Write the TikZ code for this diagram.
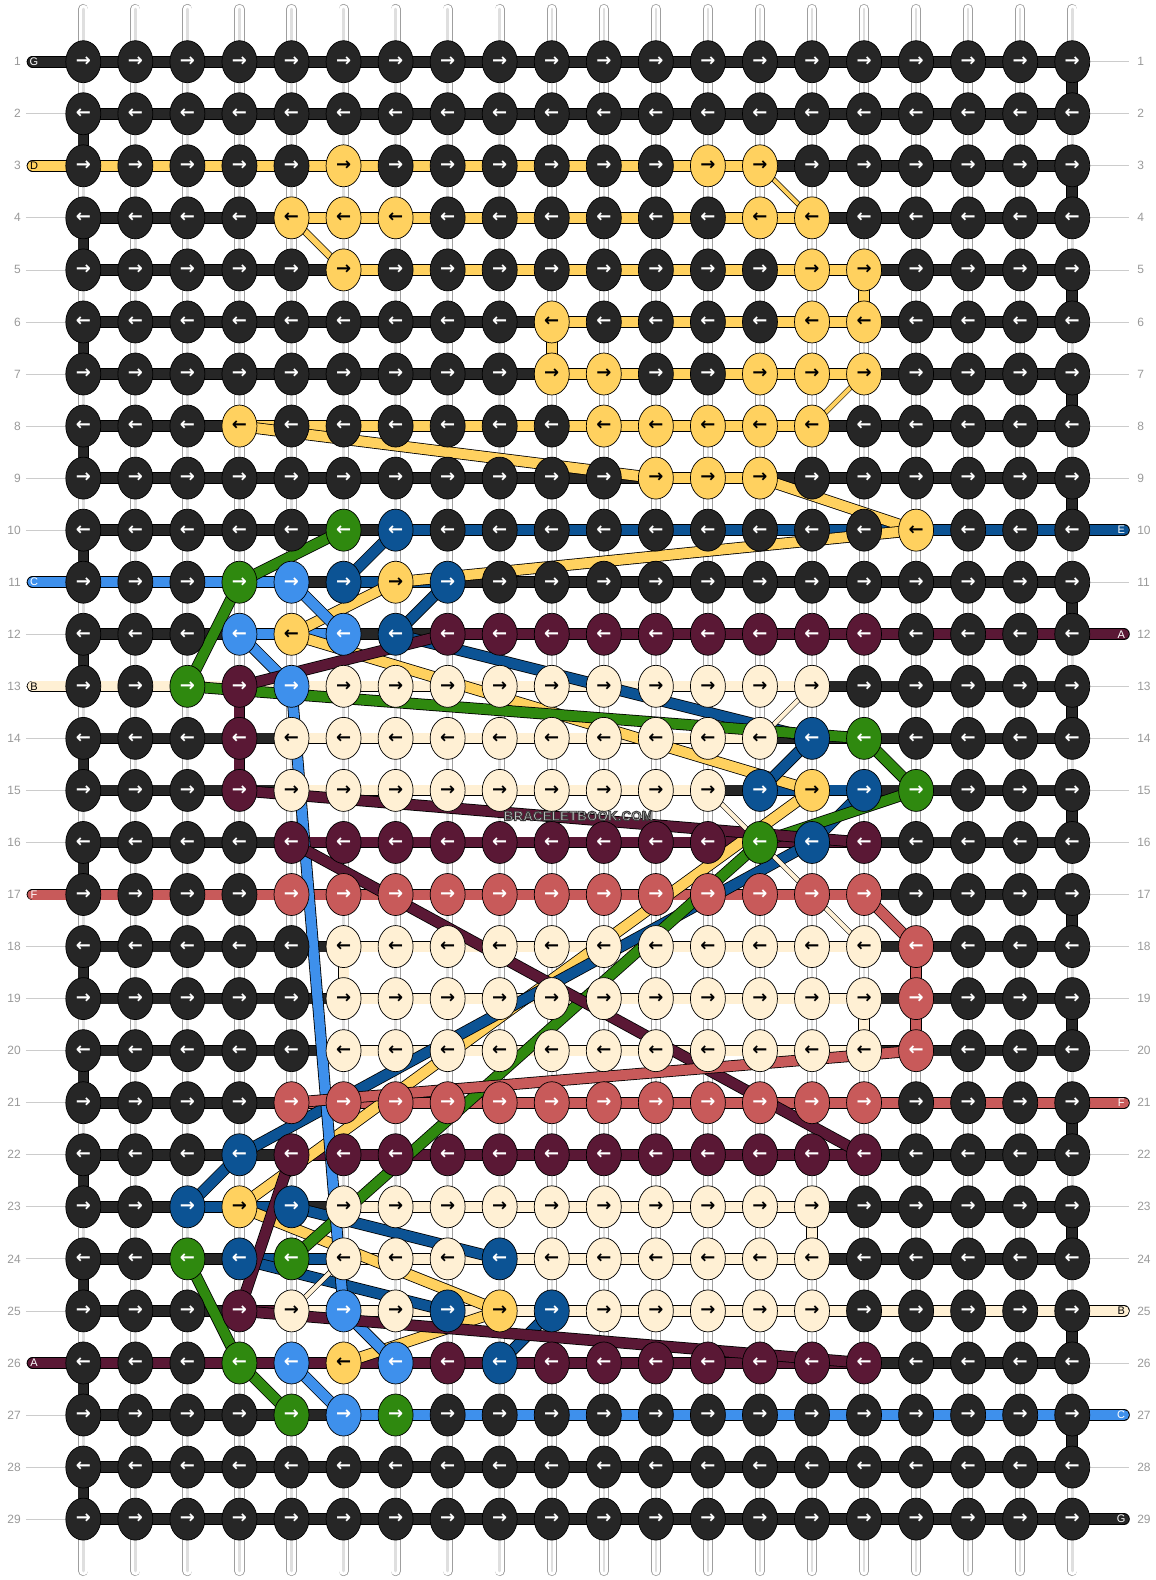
\documentclass[tikz,border=0pt]{standalone}
\usepackage{fontspec}
\setmainfont{Liberation Sans}
\newfontfamily\arrowfont{DejaVu Sans}
\usepackage{xstring}
\usepackage{tikz}
\usetikzlibrary{shapes.geometric}
\usepackage{xcolor}

\definecolor{colK}{HTML}{262626}
\definecolor{colY}{HTML}{FFD15F}
\definecolor{colW}{HTML}{FFF0D4}
\definecolor{colD}{HTML}{0C5394}
\definecolor{colL}{HTML}{3E90EC}
\definecolor{colG}{HTML}{2F890F}
\definecolor{colM}{HTML}{5A1835}
\definecolor{colR}{HTML}{C85A5A}
\definecolor{markfill}{HTML}{CFCFCF}
\colorlet{txtK}{white}
\colorlet{txtY}{black}
\colorlet{txtW}{black}
\colorlet{txtD}{white}
\colorlet{txtL}{white}
\colorlet{txtG}{white}
\colorlet{txtM}{white}
\colorlet{txtR}{white}
\newcommand{\outlinetext}[1]{\special{pdf:literal direct 2 Tr 0.9 w 0.22 G}#1\special{pdf:literal direct 0 Tr}}

\pgfdeclarelayer{warp}
\pgfdeclarelayer{strands}
\pgfsetlayers{warp,strands,main}

\begin{document}
\begin{tikzpicture}[x=52.05pt,y=-52.05pt]
  \tikzstyle{knot}=[ellipse,draw=black,line width=0.7pt,minimum width=35pt,minimum height=42pt,inner sep=0pt,font=\arrowfont\bfseries\fontsize{18}{18}\selectfont]
  \tikzstyle{strand}=[draw=black,line width=0.8pt,double distance=10pt]
  \tikzstyle{midstrand}=[draw=black,line width=0.7pt,double distance=6pt]
  \tikzstyle{thinstrand}=[draw=black,line width=0.6pt,double distance=4pt]
  \tikzstyle{warpline}=[draw=gray!75,line width=0.8pt,double=white,double distance=8.5pt,line cap=round]
  \tikzstyle{warpmid}=[draw=gray!25,line width=2.5pt,line cap=round]
  \tikzstyle{rownum}=[text=gray!80,font=\fontsize{12}{12}\selectfont,inner sep=0pt]
  \tikzstyle{numline}=[draw=gray!40,line width=0.8pt]
  \tikzstyle{tag}=[font=\fontsize{11}{11}\selectfont,inner sep=0pt]

  \useasboundingbox (-0.6004,-0.1854) rectangle (21.609,30.170);

  \foreach \r/\row in {1/KKKKKKKKKKKKKKKKKKKK,2/KKKKKKKKKKKKKKKKKKKK,3/KKKKKYKKKKKKYYKKKKKK,
    4/KKKKYYYKKKKKKYYKKKKK,5/KKKKKYKKKKKKKKYYKKKK,6/KKKKKKKKKYKKKKYYKKKK,
    7/KKKKKKKKKYYKKYYYKKKK,8/KKKYKKKKKKYYYYYKKKKK,9/KKKKKKKKKKKYYYKKKKKK,
    10/KKKKKGDKKKKKKKKKYKKK,11/KKKGLDYDKKKKKKKKKKKK,12/KKKLYLDMMMMMMMMMKKKK,
    13/KKGMLWWWWWWWWWWKKKKK,14/KKKMWWWWWWWWWWDGKKKK,15/KKKMWWWWWWWWWDYDGKKK,
    16/KKKKMMMMMMMMMGDMKKKK,17/KKKKRRRRRRRRRRRRKKKK,18/KKKKKWWWWWWWWWWWRKKK,
    19/KKKKKWWWWWWWWWWWRKKK,20/KKKKKWWWWWWWWWWWRKKK,21/KKKKRRRRRRRRRRRRKKKK,
    22/KKKDMMMMMMMMMMMMKKKK,23/KKDYDWWWWWWWWWWKKKKK,24/KKGDGWWWDWWWWWWKKKKK,
    25/KKKMWLWDYDWWWWWKKKKK,26/KKKGLYLMDMMMMMMMKKKK,27/KKKKGLGKKKKKKKKKKKKK,
    28/KKKKKKKKKKKKKKKKKKKK,29/KKKKKKKKKKKKKKKKKKKK}{
    \foreach \c in {1,...,20}{
      \StrChar{\row}{\c}[\ch]
      \ifodd\r \def\arr{→}\else \def\arr{←}\fi
      \node[knot,fill=col\ch,text=txt\ch] (k-\r-\c) at (\c,\r) {\arr};
    }
  }

  \begin{pgfonlayer}{warp}
    \foreach \c in {1,...,20}{
      \coordinate (wt-\c) at (\c,-0.0124);
      \coordinate (wb-\c) at (\c,29.997);
      \draw[warpline] (wt-\c) -- (wb-\c);
      \draw[warpmid] (wt-\c) -- (wb-\c);
    }
    \foreach \r in {1,...,29}{
      \coordinate (nl-\r) at (-0.1009,\r);
      \coordinate (nr-\r) at (21.09,\r);
      \draw[numline] (nl-\r) -- (k-\r-1.west);
      \draw[numline] (k-\r-20.east) -- (nr-\r);
    }
  \end{pgfonlayer}

  \begin{pgfonlayer}{strands}
    \foreach \r/\seg in {1/KKKKKKKKKKKKKKKKKKK,2/KKKKKKKKKKKKKKKKKKK,3/YYYYYYYYYYYYYKKKKKK,
      4/KKKKYYYYYYYYYYKKKKK,5/KKKKKYYYYYYYYYYKKKK,6/KKKKKKKKKYYYYYYKKKK,
      7/KKKKKKKKKYYYYYYKKKK,8/KKKYYYYYYYYYYYKKKKK,9/KKKKKKKKKKKYYKKKKKK,
      10/KKKKKKDDDDDDDDDDDDD,11/LLLLKDDKKKKKKKKKKKK,12/KKKLLKKMMMMMMMMMMMM,
      13/WWWWWWWWWWWWWWKKKKK,14/KKKKWWWWWWWWWKKKKKK,15/KKKKWWWWWWWWKDDKKKK,
      16/KKKKMMMMMMMMMMMKKKK,17/RRRRRRRRRRRRRRRKKKK,18/KKKKKWWWWWWWWWWKKKK,
      19/KKKKKWWWWWWWWWWKKKK,20/KKKKKWWWWWWWWWWKKKK,21/KKKKRRRRRRRRRRRRRRR,
      22/KKKKMMMMMMMMMMMKKKK,23/KKDDKWWWWWWWWWKKKKK,24/KKKDDWWWWWWWWWKKKKK,
      25/KKKMWWWWWWWWWWWWWWW,26/MMMMMMMMMMMMMMMKKKK,27/KKKKKLLLLLLLLLLLLLL,
      28/KKKKKKKKKKKKKKKKKKK,29/KKKKKKKKKKKKKKKKKKK}{
      \foreach \c in {1,...,19}{
        \StrChar{\seg}{\c}[\ch]
        \pgfmathtruncatemacro\cn{\c+1}
        \draw[strand,double=col\ch] (k-\r-\c.center) -- (k-\r-\cn.center);
      }
    }
    \foreach \r in {2,4,...,28}{
      \pgfmathtruncatemacro\rn{\r+1}
      \draw[strand,double=colK] (k-\r-1.center) -- (k-\rn-1.center);
    }
    \foreach \r in {1,3,...,27}{
      \pgfmathtruncatemacro\rn{\r+1}
      \draw[strand,double=colK] (k-\r-20.center) -- (k-\rn-20.center);
    }
    \foreach \c/\r/\ch in {16/5/Y,10/6/Y,4/13/M,4/14/M,17/18/R,17/19/R,6/18/W,16/19/W,15/23/W}{
      \pgfmathtruncatemacro\rn{\r+1}
      \draw[strand,double=col\ch] (k-\r-\c.center) -- (k-\rn-\c.center);
    }
    \foreach \r/\ch/\lab in {1/K/G,3/Y/D,11/L/C,13/W/B,17/R/F,26/M/A}{
      \coordinate (le-\r) at (0.024,\r);
      \draw[strand,double=col\ch,line cap=round] (le-\r) -- (k-\r-1.center);
    }
    \foreach \r/\ch/\lab in {10/D/E,12/M/A,21/R/F,25/W/B,27/L/C,29/K/G}{
      \coordinate (re-\r) at (20.994,\r);
      \draw[strand,double=col\ch,line cap=round] (k-\r-20.center) -- (re-\r);
    }
    \foreach \a/\b/\p/\q/\ch in {4/8/12/9/Y,14/9/17/10/Y,17/10/7/11/Y,7/11/5/12/Y,5/12/15/15/Y,
      15/15/4/23/Y,4/23/9/25/Y,9/25/6/26/Y,
      7/10/6/11/D,8/11/7/12/D,7/12/15/14/D,15/14/14/15/D,16/15/15/16/D,15/16/4/22/D,
      4/22/3/23/D,5/23/9/24/D,4/24/8/25/D,10/25/9/26/D,
      6/10/4/11/G,4/11/3/13/G,3/13/16/14/G,16/14/17/15/G,17/15/14/16/G,14/16/5/24/G,
      3/24/4/26/G,4/26/5/27/G,
      5/11/6/12/L,4/12/5/13/L,5/13/6/25/L,6/25/7/26/L,5/26/6/27/L,
      8/12/4/13/M,4/15/16/16/M,5/16/16/22/M,5/22/4/25/M,4/25/16/26/M,
      16/17/17/18/R,17/20/5/21/R}{
      \draw[strand,double=col\ch] (k-\b-\a.center) -- (k-\q-\p.center);
    }
    \draw[midstrand,double=colY] (k-4-5.center) -- (k-5-6.center);
    \foreach \a/\b/\p/\q/\ch in {14/3/15/4/Y,16/7/15/8/Y,15/13/14/14/W,13/15/14/16/W,
      14/16/16/18/W,6/24/5/25/W}{
      \draw[thinstrand,double=col\ch] (k-\b-\a.center) -- (k-\q-\p.center);
    }
  \end{pgfonlayer}

  \foreach \r/\ch/\lab in {1/K/G,3/Y/D,11/L/C,13/W/B,17/R/F,26/M/A}{
    \node[tag,text=txt\ch] (lt-\r) at (0.053,\r) {\lab};
  }
  \foreach \r/\ch/\lab in {10/D/E,12/M/A,21/R/F,25/W/B,27/L/C,29/K/G}{
    \node[tag,text=txt\ch] (rt-\r) at (20.94,\r) {\lab};
  }
  \foreach \r in {1,...,29}{
    \node[rownum,anchor=east] (ln-\r) at (-0.197,\r) {\r};
    \node[rownum,anchor=west] (rn-\r) at (21.245,\r) {\r};
  }

  \node[font=\bfseries\fontsize{13.5}{13.5}\selectfont,text=markfill,inner sep=0pt] (mark) at (10.51,15.49) {\outlinetext{BRACELETBOOK.COM}};
\end{tikzpicture}
\end{document}
